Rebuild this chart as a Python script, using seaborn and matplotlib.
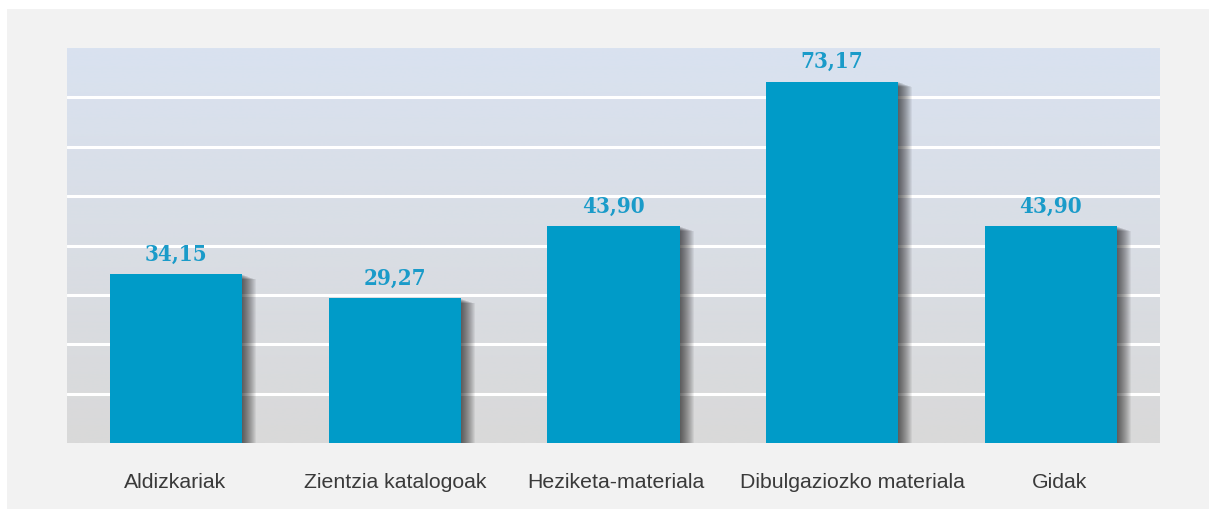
import numpy as np
import pandas as pd
import matplotlib
matplotlib.use("Agg")
import matplotlib.pyplot as plt
import matplotlib.patheffects as pe
import matplotlib.transforms as mtransforms
from matplotlib.patches import Rectangle
import seaborn as sns

categories = ["Aldizkariak", "Zientzia katalogoak", "Heziketa-materiala",
              "Dibulgaziozko materiala", "Gidak"]
values = [34.15, 29.27, 43.90, 73.17, 43.90]
y_ticks = [10, 20, 30, 40, 50, 60, 70]
# small horizontal nudges (pixels) of the category labels
label_shift_px = [-1.5, 0, 2, 20, 8.5]

BAR = "#009bc8"
LABEL = "#1a9bc9"

sns.set_theme(style="white")
plt.rcParams["font.family"] = ["Liberation Sans", "DejaVu Sans"]

df = pd.DataFrame({"category": categories, "value": values})

fig = plt.figure(figsize=(12.09, 5.10), dpi=100, facecolor="white")
# light grey card behind the chart
fig.patches.append(Rectangle((7 / 1209, 0), 1, 500 / 510, transform=fig.transFigure,
                             facecolor="#f2f2f2", edgecolor="none", zorder=-10))

ax = fig.add_axes([67 / 1209, 66 / 510, 1093 / 1209, 395 / 510])
ax.set_facecolor("none")

# vertical gradient: pale blue at the top to light grey at the bottom
top = np.array([0xd9, 0xe2, 0xf0]) / 255
bot = np.array([0xd9, 0xd9, 0xd9]) / 255
t = np.linspace(0, 1, 256)[:, None]
grad = (top * (1 - t) + bot * t)[:, None, :].repeat(2, axis=1)
ax.imshow(grad, extent=(-0.5, 4.5, 0, 80), aspect="auto", zorder=0,
          interpolation="bilinear")

sns.barplot(data=df, x="category", y="value", color=BAR, width=0.604,
            saturation=1, ax=ax, zorder=3)

ax.set_xlim(-0.5, 4.5)
ax.set_ylim(0, 80)
ax.set_yticks(y_ticks)
ax.yaxis.grid(True, color="white", linewidth=2.2, zorder=1)
ax.set_axisbelow(True)
ax.tick_params(axis="y", left=False, labelleft=False)
ax.tick_params(axis="x", bottom=False, pad=15, labelsize=15.3, labelcolor="#3a3a3a")
ax.set_xlabel("")
ax.set_ylabel("")
for s in ax.spines.values():
    s.set_visible(False)

for lab, dx in zip(ax.get_xticklabels(), label_shift_px):
    lab.set_transform(lab.get_transform() +
                      mtransforms.ScaledTranslation(dx / fig.dpi, 0, fig.dpi_scale_trans))

# soft drop shadow on the right side of every bar
shadow = [pe.SimplePatchShadow(offset=(k * 0.72, -k * 0.25), shadow_rgbFace="black",
                               alpha=0.055) for k in range(1, 15)]
for p in ax.patches:
    p.set_path_effects(shadow + [pe.Normal()])
    p.set_edgecolor("none")

labels = [f"{v:.2f}".replace(".", ",") for v in values]
ax.bar_label(ax.containers[0], labels=labels, padding=7, color=LABEL,
             fontsize=16, fontweight="bold", family="DejaVu Serif",
             fontstretch="condensed")

fig.savefig("out.png", dpi=100, facecolor=fig.get_facecolor())
